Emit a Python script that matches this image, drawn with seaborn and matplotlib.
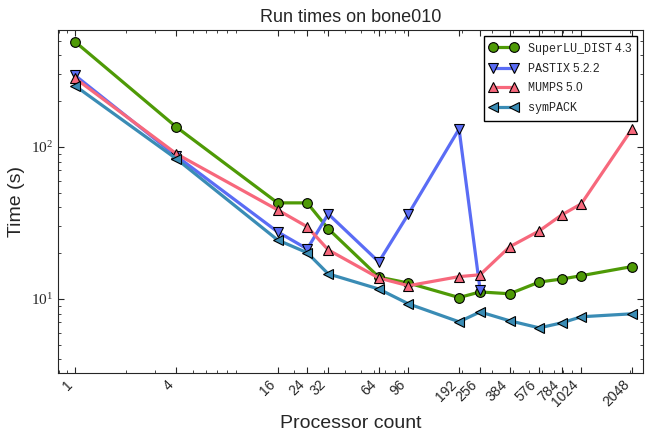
import numpy as np
import pandas as pd
import seaborn as sns
import matplotlib.pyplot as plt
from matplotlib.ticker import FuncFormatter, NullFormatter

# processor counts
procs = [1, 4, 16, 24, 32, 64, 96, 192, 256, 384, 576, 784, 1024, 2048]
procs_pastix = [1, 4, 16, 24, 32, 64, 96, 192, 256]

# run times (s)
superlu = [491, 135, 42.8, 42.8, 28.9, 13.9, 12.7, 10.2, 11.1, 10.8, 12.9, 13.5, 14.2, 16.3]
pastix = [295, 87, 27.6, 21.3, 36.2, 17.5, 36.2, 131, 11.5]
mumps = [283, 90, 38.5, 29.8, 21.0, 13.7, 12.2, 14.0, 14.4, 22.0, 28.0, 35.7, 42.2, 131]
sympack = [252, 83.4, 24.4, 20.1, 14.6, 11.6, 9.27, 7.06, 8.2, 7.17, 6.44, 6.95, 7.62, 7.97]

labels = [r"$\mathtt{SuperLU\_DIST}$ 4.3", r"$\mathtt{PASTIX}$ 5.2.2",
          r"$\mathtt{MUMPS}$ 5.0", r"$\mathtt{symPACK}$"]
colors = ["#4e9a06", "#5a6cf5", "#f7687c", "#3a8cb5"]
markers = ["o", "v", "^", "<"]

sns.set_style("ticks")
plt.rcParams["font.family"] = ["Liberation Sans", "DejaVu Sans"]
plt.rcParams["mathtext.fontset"] = "custom"
plt.rcParams["mathtext.rm"] = "Liberation Serif"
plt.rcParams["mathtext.it"] = "Liberation Serif:italic"
plt.rcParams["mathtext.bf"] = "Liberation Serif:bold"
plt.rcParams["mathtext.tt"] = "Liberation Mono"

fig, ax = plt.subplots(figsize=(6.51, 4.34), dpi=100)
fig.subplots_adjust(left=0.089, right=0.988, top=0.931, bottom=0.141)

series = [(procs, superlu), (procs_pastix, pastix), (procs, mumps), (procs, sympack)]
for (xs, ys), lab, c, m in zip(series, labels, colors, markers):
    df = pd.DataFrame({"procs": xs, "time": ys})
    sns.lineplot(data=df, x="procs", y="time", ax=ax, color=c, marker=m,
                 markersize=7, markeredgecolor="k", markeredgewidth=0.8,
                 linewidth=2.3, label=lab, errorbar=None)

ax.set_xscale("log")
ax.set_yscale("log")
ax.set_xlim(0.79, 2390)
ax.set_ylim(3.26, 588)

ax.set_xticks(procs)
ax.set_xticklabels([str(p) for p in procs], rotation=45, ha="right", fontsize=10)
ax.xaxis.set_minor_formatter(NullFormatter())
ax.yaxis.set_major_formatter(FuncFormatter(lambda v, p: r"$10^{%d}$" % round(np.log10(v))))
ax.yaxis.set_minor_formatter(NullFormatter())
ax.tick_params(axis="y", labelsize=11)
ax.tick_params(which="both", direction="in", top=True, right=True)
ax.tick_params(which="major", length=4)
ax.tick_params(which="minor", length=2)

ax.set_title("Run times on bone010", fontsize=13)
ax.set_xlabel("Processor count", fontsize=14)
ax.set_ylabel("Time (s)", fontsize=14)

leg = ax.legend(loc="upper right", numpoints=2, fontsize=8.5, fancybox=False,
                edgecolor="k", framealpha=1, handlelength=2.4)
leg.get_frame().set_linewidth(1.0)

plt.savefig("out.png", dpi=100)
